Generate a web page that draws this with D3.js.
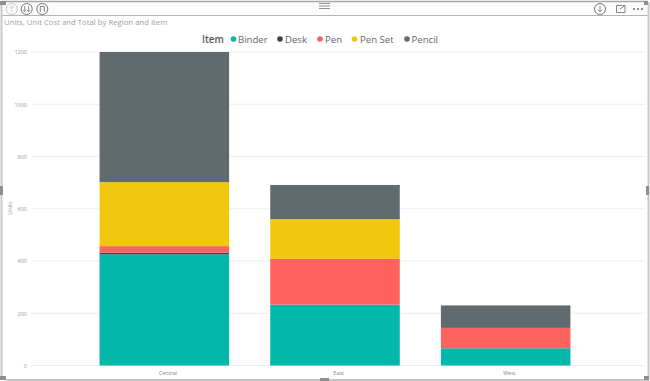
<!DOCTYPE html>
<html><head><meta charset="utf-8">
<script src="https://cdn.jsdelivr.net/npm/d3@7"></script>
<style>html,body{margin:0;padding:0;background:#fff;overflow:hidden}svg{display:block}</style>
</head><body><svg id="c" width="650" height="381"></svg>
<script>
const regions = ["Central","East","West"];
const items = ["Binder","Desk","Pen","Pen Set","Pencil"];
const colors = ["#01B8AA","#374649","#FD625E","#F2C80F","#5F6B6D"];
const binder = [425,233,66];
const desk = [7,0,0];
const pen = [25,175,78];
const penSet = [245,152,0];
const pencil = [498,131,86];
const yTicks = [0,200,400,600,800,1000,1200];
const title = "Units, Unit Cost and Total by Region and Item";
const seriesValues = [binder,desk,pen,penSet,pencil];

const svg = d3.select("#c");
const W = 650, H = 381;
const font = "'Open Sans','Noto Sans',sans-serif";
const y = d3.scaleLinear().domain([0,1200]).range([365.5,52]);
const x = d3.scaleBand().domain(regions).range([79,591]).paddingInner(0.241).paddingOuter(0.1205);

// window frame
const chrome = svg.append("g");
chrome.append("rect").attr("x",0).attr("y",0).attr("width",W).attr("height",H).attr("fill","#fff");
chrome.append("rect").attr("x",2).attr("y",2).attr("width",645).attr("height",13).attr("fill","#fcfcfc");
chrome.append("path").attr("d","M1,1.5H648").attr("stroke","#a6a6a6").attr("stroke-width",1.5).attr("fill","none");
chrome.append("path").attr("d","M2,15.5H648").attr("stroke","#b5b5b5").attr("stroke-width",1).attr("fill","none");
chrome.append("path").attr("d","M1.5,2V379").attr("stroke","#c8c8c8").attr("stroke-width",2).attr("fill","none");
chrome.append("path").attr("d","M648.5,2V380").attr("stroke","#c8c8c8").attr("stroke-width",2).attr("fill","none");
chrome.append("path").attr("d","M6,380H649").attr("stroke","#b0b0b0").attr("stroke-width",1.5).attr("fill","none");
// frame handles
[[0,186,3,9],[646,186,3,9],[320,378,9,3],[0,1,6,4],[644,1,4,4],[0,376,6,4],[644,376,5,4]].forEach(r=>
  chrome.append("rect").attr("x",r[0]).attr("y",r[1]).attr("width",r[2]).attr("height",r[3]).attr("fill","#8f8f8f"));
// toolbar handle
[3.5,6,8.5].forEach(v=>chrome.append("path").attr("d",`M319,${v}H330`).attr("stroke","#777").attr("stroke-width",.8));
// toolbar icons
const icon = svg.append("g").attr("fill","none");
icon.append("circle").attr("cx",11.7).attr("cy",9).attr("r",5.5).attr("stroke","#c8c8c8");
icon.append("path").attr("d","M11.7,12.5V6M9.2,8.2L11.7,5.8L14.2,8.2").attr("stroke","#c8c8c8").attr("stroke-width",.8);
icon.append("circle").attr("cx",26.7).attr("cy",9).attr("r",5.5).attr("stroke","#777");
icon.append("path").attr("d","M24.7,6V11.5M23.2,10L24.7,11.5L26.2,10M28.7,6V11.5M27.2,10L28.7,11.5L30.2,10").attr("stroke","#777").attr("stroke-width",.8);
icon.append("circle").attr("cx",42.3).attr("cy",9).attr("r",5.5).attr("stroke","#777");
icon.append("path").attr("d","M40.3,12V6.5H44.3V12").attr("stroke","#777").attr("stroke-width",.9);
icon.append("circle").attr("cx",600).attr("cy",9).attr("r",5.5).attr("stroke","#777");
icon.append("path").attr("d","M600,5.5V12M597.5,9.5L600,12L602.5,9.5").attr("stroke","#777").attr("stroke-width",.8);
icon.append("path").attr("d","M622,5.5H616.5V12.5H625V8M620,9L625,5.5M622.5,5.5H625V8").attr("stroke","#777").attr("stroke-width",.9);
[634,638,642].forEach(cx=>icon.append("circle").attr("cx",cx).attr("cy",9).attr("r",.9).attr("fill","#555"));

// title
svg.append("text").attr("x",4).attr("y",25).attr("font-family",font).attr("font-size",7.75).attr("fill","#a0a0a0").text(title);

// gridlines
svg.append("g").selectAll("line").data(yTicks).join("line")
  .attr("x1",31).attr("x2",645).attr("y1",d=>y(d)).attr("y2",d=>y(d))
  .attr("stroke","#eeeeee").attr("stroke-width",1);

// y tick labels
const yAxis = d3.axisLeft(y).tickValues(yTicks).tickFormat(d3.format("d")).tickSize(0).tickPadding(0);
const yG = svg.append("g").attr("transform","translate(27,0)").call(yAxis);
yG.select(".domain").remove();
yG.selectAll("text").attr("font-family",font).attr("font-size",5.5).attr("fill","#999");

// y title
svg.append("text").attr("transform","translate(12,208) rotate(-90)").attr("text-anchor","middle")
  .attr("font-family",font).attr("font-size",5.5).attr("fill","#999").text("Units");

// bars
const rows = regions.map((r,i)=>{const o={region:r};items.forEach((it,j)=>o[it]=seriesValues[j][i]);return o;});
const stack = d3.stack().keys(items)(rows);
svg.append("g").selectAll("g").data(stack).join("g").attr("fill",(d,i)=>colors[i])
  .selectAll("rect").data(d=>d).join("rect")
  .attr("x",d=>x(d.data.region)).attr("width",x.bandwidth())
  .attr("y",d=>y(d[1])).attr("height",d=>y(d[0])-y(d[1]));

// x labels
const xAxis = d3.axisBottom(x).tickSize(0).tickPadding(0);
const xG = svg.append("g").attr("transform","translate(3.7,371)").call(xAxis);
xG.select(".domain").remove();
xG.selectAll("text").attr("font-family",font).attr("font-size",5.5).attr("fill","#888");

// legend
const legendX = [238,285,325,360,411.5];
const legendDot = [233.5,280,320,354.5,407];
svg.append("text").attr("x",202).attr("y",43).attr("font-family",font).attr("font-size",9.8).attr("font-weight",600).attr("fill","#555").text("Item");
const lg = svg.append("g").selectAll("g").data(items).join("g");
lg.append("circle").attr("cx",(d,i)=>legendDot[i]).attr("cy",39).attr("r",2.8).attr("fill",(d,i)=>colors[i]);
lg.append("text").attr("x",(d,i)=>legendX[i]).attr("y",43).attr("font-family",font).attr("font-size",9.6).attr("fill","#666").text(d=>d);
</script></body></html>
